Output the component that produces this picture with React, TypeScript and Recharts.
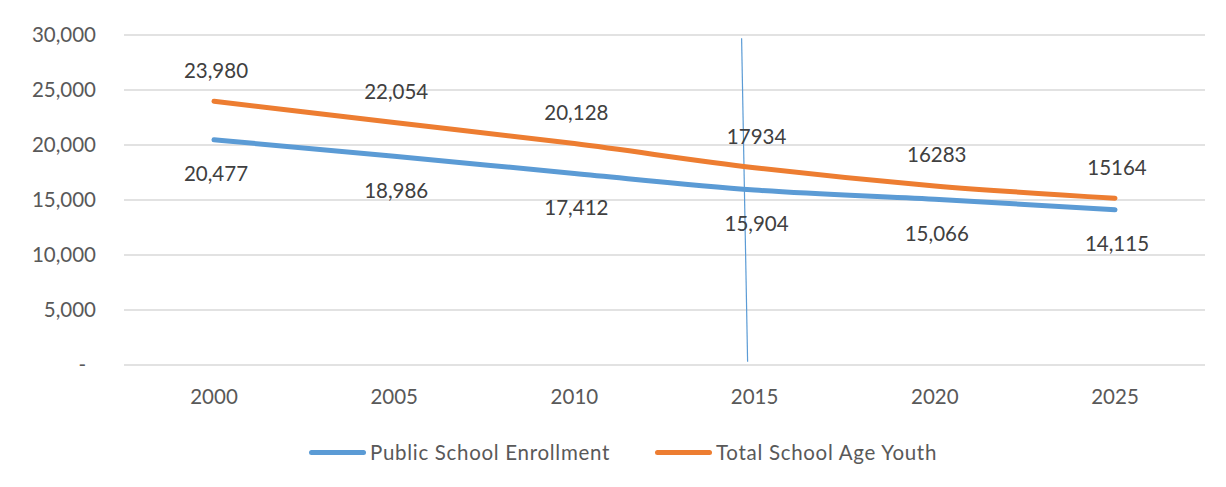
import React from 'react';
import {
  LineChart,
  Line,
  XAxis,
  YAxis,
  CartesianGrid,
  LabelList,
  ReferenceLine,
} from 'recharts';

const years = ['2000', '2005', '2010', '2015', '2020', '2025'];
const enrollment = [20477, 18986, 17412, 15904, 15066, 14115];
const youth = [23980, 22054, 20128, 17934, 16283, 15164];
const enrollmentLabels = ['20,477', '18,986', '17,412', '15,904', '15,066', '14,115'];
const youthLabels = ['23,980', '22,054', '20,128', '17934', '16283', '15164'];
const yTicks = [0, 5000, 10000, 15000, 20000, 25000, 30000];

const BLUE = '#5B9BD5';
const ORANGE = '#ED7D31';
const FONT = 'Lato, "Open Sans", sans-serif';
const FS = 20.5;

const data = years.map((year, i) => ({
  year,
  enrollment: enrollment[i],
  youth: youth[i],
}));

function YTick({ x, y, payload }: any) {
  const v = payload.value as number;
  if (v === 0) {
    return (
      <text x={x - 10} y={y} dy="0.36em" textAnchor="end" fill="#595959" fontSize={FS} fontFamily={FONT}>
        -
      </text>
    );
  }
  return (
    <text x={x} y={y} dy="0.36em" textAnchor="end" fill="#595959" fontSize={FS} fontFamily={FONT}>
      {v.toLocaleString('en-US')}
    </text>
  );
}

function XTick({ x, y, payload }: any) {
  return (
    <text x={x} y={y} dy="0.36em" textAnchor="middle" fill="#595959" fontSize={FS} fontFamily={FONT}>
      {payload.value}
    </text>
  );
}

function makeLabel(labels: string[], offset: number) {
  return (props: any) => {
    const { x, y, index } = props;
    return (
      <text
        x={x + 2}
        y={y + offset}
        dy="0.36em"
        textAnchor="middle"
        fill="#404040"
        fontSize={FS}
        fontFamily={FONT}
      >
        {labels[index]}
      </text>
    );
  };
}

function LegendItem({ color, label }: { color: string; label: string }) {
  return (
    <div style={{ display: 'flex', alignItems: 'center' }}>
      <div style={{ width: 57, height: 5, borderRadius: 3, background: color, marginRight: 4 }} />
      <span
        style={{ color: '#595959', fontSize: FS, fontFamily: FONT, lineHeight: 1, letterSpacing: 0.7 }}
      >
        {label}
      </span>
    </div>
  );
}

export default function App() {
  return (
    <div
      style={{
        position: 'relative',
        width: 1226,
        height: 487,
        margin: -8,
        overflow: 'hidden',
        background: '#fff',
        fontFamily: FONT,
      }}
    >
      <div
        style={{
          position: 'absolute',
          left: 6,
          top: 5,
          width: 1260,
          height: 520,
          border: '2px solid #D9D9D9',
        }}
      />
      <LineChart
        width={1226}
        height={487}
        data={data}
        margin={{ top: 35, right: 21, left: 0, bottom: 62 }}
        style={{ position: 'absolute', left: 0, top: 0 }}
      >
        <CartesianGrid vertical={false} stroke="#D9D9D9" strokeWidth={1.5} />
        <XAxis
          dataKey="year"
          height={60}
          axisLine={false}
          tickLine={false}
          tickSize={0}
          tickMargin={32}
          padding={{ left: 90, right: 90 }}
          tick={<XTick />}
          interval={0}
        />
        <YAxis
          width={124}
          domain={[0, 30000]}
          ticks={yTicks}
          axisLine={false}
          tickLine={false}
          tickSize={0}
          tickMargin={28}
          tick={<YTick />}
          interval={0}
        />
        <ReferenceLine
          segment={[
            { x: '2015', y: 29700 },
            { x: '2015', y: 300 },
          ]}
          stroke={BLUE}
          strokeWidth={1}
          shape={(p: any) => (
            <line x1={p.x1 - 13} y1={p.y1} x2={p.x2 - 7} y2={p.y2} stroke={BLUE} strokeWidth={1.2} />
          )}
        />
        <Line
          type="monotone"
          dataKey="enrollment"
          stroke={BLUE}
          strokeWidth={5}
          strokeLinecap="round"
          dot={false}
          isAnimationActive={false}
        >
          <LabelList dataKey="enrollment" content={makeLabel(enrollmentLabels, 34)} />
        </Line>
        <Line
          type="monotone"
          dataKey="youth"
          stroke={ORANGE}
          strokeWidth={5}
          strokeLinecap="round"
          dot={false}
          isAnimationActive={false}
        >
          <LabelList dataKey="youth" content={makeLabel(youthLabels, -31)} />
        </Line>
      </LineChart>
      <div style={{ position: 'absolute', left: 309, top: 442, display: 'flex', gap: 45 }}>
        <LegendItem color={BLUE} label="Public School Enrollment" />
        <LegendItem color={ORANGE} label="Total School Age Youth" />
      </div>
    </div>
  );
}
